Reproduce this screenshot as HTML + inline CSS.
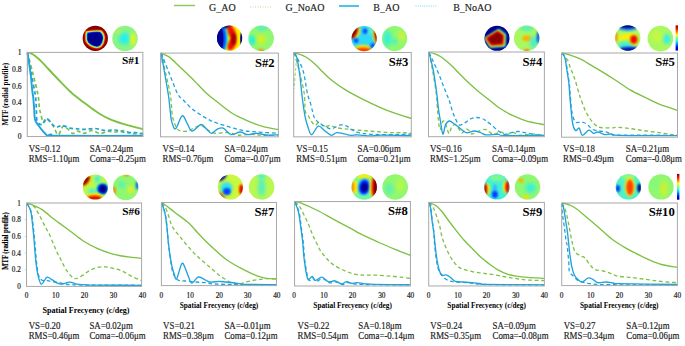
<!DOCTYPE html><html><head><meta charset="utf-8"><style>html,body{margin:0;padding:0;background:#fff;}svg{display:block;}text{font-family:"Liberation Serif",serif;}</style></head><body>
<svg xmlns="http://www.w3.org/2000/svg" width="685" height="346" viewBox="0 0 685 346">
<defs>
<filter id="b0_4" x="-50%" y="-50%" width="200%" height="200%"><feGaussianBlur stdDeviation="0.4"/></filter>
<filter id="b0_5" x="-50%" y="-50%" width="200%" height="200%"><feGaussianBlur stdDeviation="0.5"/></filter>
<filter id="b0_6" x="-50%" y="-50%" width="200%" height="200%"><feGaussianBlur stdDeviation="0.6"/></filter>
<filter id="b0_7" x="-50%" y="-50%" width="200%" height="200%"><feGaussianBlur stdDeviation="0.7"/></filter>
<filter id="b0_8" x="-50%" y="-50%" width="200%" height="200%"><feGaussianBlur stdDeviation="0.8"/></filter>
<filter id="b0_9" x="-50%" y="-50%" width="200%" height="200%"><feGaussianBlur stdDeviation="0.9"/></filter>
<filter id="b1_0" x="-50%" y="-50%" width="200%" height="200%"><feGaussianBlur stdDeviation="1.0"/></filter>
<filter id="b1_1" x="-50%" y="-50%" width="200%" height="200%"><feGaussianBlur stdDeviation="1.1"/></filter>
<filter id="b1_2" x="-50%" y="-50%" width="200%" height="200%"><feGaussianBlur stdDeviation="1.2"/></filter>
<filter id="b1_3" x="-50%" y="-50%" width="200%" height="200%"><feGaussianBlur stdDeviation="1.3"/></filter>
<filter id="b1_4" x="-50%" y="-50%" width="200%" height="200%"><feGaussianBlur stdDeviation="1.4"/></filter>
<filter id="b1_5" x="-50%" y="-50%" width="200%" height="200%"><feGaussianBlur stdDeviation="1.5"/></filter>
<filter id="b1_6" x="-50%" y="-50%" width="200%" height="200%"><feGaussianBlur stdDeviation="1.6"/></filter>
<filter id="b1_8" x="-50%" y="-50%" width="200%" height="200%"><feGaussianBlur stdDeviation="1.8"/></filter>
<filter id="b2_0" x="-50%" y="-50%" width="200%" height="200%"><feGaussianBlur stdDeviation="2.0"/></filter>
<filter id="b2_2" x="-50%" y="-50%" width="200%" height="200%"><feGaussianBlur stdDeviation="2.2"/></filter>
<filter id="soft" x="-10%" y="-10%" width="120%" height="120%"><feGaussianBlur stdDeviation="0.35"/></filter>
<radialGradient id="rad1" gradientUnits="userSpaceOnUse" cx="96.3" cy="37.7" r="13.6"><stop offset="0" stop-color="#00008c"/><stop offset="0.53" stop-color="#00008c"/><stop offset="0.6" stop-color="#0020ff"/><stop offset="0.66" stop-color="#10e0f8"/><stop offset="0.72" stop-color="#f8f000"/><stop offset="0.77" stop-color="#ff7000"/><stop offset="0.81" stop-color="#ee1000"/><stop offset="0.88" stop-color="#900000"/><stop offset="1" stop-color="#780000"/></radialGradient>
<linearGradient id="jet" x1="0" y1="1" x2="0" y2="0"><stop offset="0" stop-color="#00008c"/><stop offset="0.125" stop-color="#0000ff"/><stop offset="0.375" stop-color="#00ffff"/><stop offset="0.625" stop-color="#ffff00"/><stop offset="0.875" stop-color="#ff0000"/><stop offset="1" stop-color="#800000"/></linearGradient>
<clipPath id="cp1"><rect x="26.26" y="51.40" width="117.59" height="85.75"/></clipPath>
<clipPath id="cp2"><rect x="159.55" y="52.10" width="119.82" height="85.34"/></clipPath>
<clipPath id="cp3"><rect x="292.70" y="51.50" width="119.58" height="85.94"/></clipPath>
<clipPath id="cp4"><rect x="427.50" y="51.00" width="117.87" height="86.30"/></clipPath>
<clipPath id="cp5"><rect x="560.55" y="52.00" width="117.95" height="85.80"/></clipPath>
<clipPath id="cp6"><rect x="25.50" y="202.00" width="117.10" height="85.00"/></clipPath>
<clipPath id="cp7"><rect x="160.40" y="201.50" width="117.10" height="84.70"/></clipPath>
<clipPath id="cp8"><rect x="293.55" y="200.55" width="117.88" height="86.05"/></clipPath>
<clipPath id="cp9"><rect x="427.70" y="201.40" width="117.67" height="85.16"/></clipPath>
<clipPath id="cp10"><rect x="560.70" y="202.00" width="117.67" height="84.20"/></clipPath>
<clipPath id="cc0"><circle cx="95.30" cy="38.40" r="12.60"/></clipPath>
<clipPath id="cc1"><circle cx="125.00" cy="38.40" r="12.70"/></clipPath>
<clipPath id="cc2"><circle cx="229.60" cy="38.10" r="12.60"/></clipPath>
<clipPath id="cc3"><circle cx="261.10" cy="38.30" r="12.80"/></clipPath>
<clipPath id="cc4"><circle cx="364.10" cy="38.60" r="12.60"/></clipPath>
<clipPath id="cc5"><circle cx="394.60" cy="38.60" r="12.60"/></clipPath>
<clipPath id="cc6"><circle cx="497.00" cy="38.30" r="12.50"/></clipPath>
<clipPath id="cc7"><circle cx="526.70" cy="38.30" r="12.80"/></clipPath>
<clipPath id="cc8"><circle cx="627.80" cy="38.00" r="12.70"/></clipPath>
<clipPath id="cc9"><circle cx="660.40" cy="38.60" r="12.80"/></clipPath>
<clipPath id="cc10"><circle cx="95.40" cy="187.00" r="12.60"/></clipPath>
<clipPath id="cc11"><circle cx="125.70" cy="187.40" r="12.70"/></clipPath>
<clipPath id="cc12"><circle cx="230.40" cy="187.00" r="12.60"/></clipPath>
<clipPath id="cc13"><circle cx="261.60" cy="187.00" r="12.80"/></clipPath>
<clipPath id="cc14"><circle cx="364.20" cy="187.00" r="12.70"/></clipPath>
<clipPath id="cc15"><circle cx="395.20" cy="187.00" r="12.80"/></clipPath>
<clipPath id="cc16"><circle cx="496.90" cy="186.90" r="12.70"/></clipPath>
<clipPath id="cc17"><circle cx="527.50" cy="186.90" r="12.70"/></clipPath>
<clipPath id="cc18"><circle cx="628.40" cy="186.90" r="12.70"/></clipPath>
<clipPath id="cc19"><circle cx="661.00" cy="186.90" r="12.70"/></clipPath>
</defs>
<rect width="685" height="346" fill="#fff"/>
<g>
<line x1="174" y1="5.5" x2="195" y2="5.5" stroke="#7dc143" stroke-width="1.5" opacity="0.85"/>
<line x1="250" y1="7" x2="271" y2="7" stroke="#7dc143" stroke-width="1.2" stroke-dasharray="1 1.5" opacity="0.55"/>
<line x1="339" y1="6" x2="359" y2="6" stroke="#3cbde6" stroke-width="1.8"/>
<line x1="415.5" y1="6" x2="437" y2="6" stroke="#3cbde6" stroke-width="1.2" stroke-dasharray="1 1.2" opacity="0.7"/>
<text x="209.1" y="10.5" font-size="10" fill="#1a1a1a" stroke="#1a1a1a" stroke-width="0.15">G_AO</text>
<text x="285.5" y="10.5" font-size="10" fill="#1a1a1a" stroke="#1a1a1a" stroke-width="0.15">G_NoAO</text>
<text x="373.3" y="10.5" font-size="10" fill="#1a1a1a" stroke="#1a1a1a" stroke-width="0.15">B_AO</text>
<text x="453.2" y="10.5" font-size="10" fill="#1a1a1a" stroke="#1a1a1a" stroke-width="0.15">B_NoAO</text>
</g>
<g clip-path="url(#cp1)" fill="none" stroke-linejoin="round" stroke-linecap="butt">
<path d="M27.40,52.60 C28.33,56.17 31.23,66.93 33.00,74.00 C34.77,81.07 36.93,89.33 38.00,95.00 C39.07,100.67 38.88,104.67 39.40,108.00 C39.92,111.33 40.45,112.60 41.10,115.00 C41.75,117.40 42.20,121.73 43.30,122.40 C44.40,123.07 46.02,118.33 47.70,119.00 C49.38,119.67 51.65,123.78 53.40,126.40 C55.15,129.02 56.60,134.70 58.20,134.70 C59.80,134.70 61.47,127.42 63.00,126.40 C64.53,125.38 65.78,127.43 67.40,128.60 C69.02,129.77 70.95,132.97 72.70,133.40 C74.45,133.83 76.02,131.20 77.90,131.20 C79.78,131.20 81.65,133.52 84.00,133.40 C86.35,133.28 89.33,130.48 92.00,130.50 C94.67,130.52 97.33,133.33 100.00,133.50 C102.67,133.67 105.33,131.75 108.00,131.50 C110.67,131.25 113.33,132.17 116.00,132.00 C118.67,131.83 121.33,130.25 124.00,130.50 C126.67,130.75 128.80,133.00 132.00,133.50 C135.20,134.00 141.33,133.50 143.20,133.50" stroke="#7dc143" stroke-width="1.70" stroke-dasharray="3.8 2.7"/>
<path d="M27.60,57.00 C27.57,60.00 27.43,72.00 27.40,75.00" stroke="#1fa3dd" stroke-width="1.0" opacity="0.55"/>
<path d="M27.40,52.60 C28.05,56.17 29.98,66.93 31.30,74.00 C32.62,81.07 34.47,89.33 35.30,95.00 C36.13,100.67 35.98,103.65 36.30,108.00 C36.62,112.35 36.18,118.33 37.20,121.10 C38.22,123.87 40.87,125.03 42.40,124.60 C43.93,124.17 44.28,118.13 46.40,118.50 C48.52,118.87 52.47,125.63 55.10,126.80 C57.73,127.97 59.72,125.28 62.20,125.50 C64.68,125.72 67.53,127.55 70.00,128.10 C72.47,128.65 74.50,128.58 77.00,128.80 C79.50,129.02 82.00,129.45 85.00,129.40 C88.00,129.35 91.67,128.32 95.00,128.50 C98.33,128.68 101.67,130.25 105.00,130.50 C108.33,130.75 111.67,129.67 115.00,130.00 C118.33,130.33 121.67,132.08 125.00,132.50 C128.33,132.92 131.97,132.28 135.00,132.50 C138.03,132.72 141.83,133.58 143.20,133.80" stroke="#1fa3dd" stroke-width="1.70" stroke-dasharray="3.8 2.7"/>
<path d="M27.30,52.50 C27.92,52.65 29.63,52.77 31.00,53.40 C32.37,54.03 33.75,54.93 35.50,56.30 C37.25,57.67 39.42,59.57 41.50,61.60 C43.58,63.63 45.92,66.27 48.00,68.50 C50.08,70.73 51.67,72.53 54.00,75.00 C56.33,77.47 59.22,80.47 62.00,83.30 C64.78,86.13 68.53,89.92 70.70,92.00 C72.87,94.08 72.67,93.95 75.00,95.80 C77.33,97.65 81.37,100.60 84.70,103.10 C88.03,105.60 92.45,108.98 95.00,110.80 C97.55,112.62 97.83,112.75 100.00,114.00 C102.17,115.25 105.12,116.97 108.00,118.30 C110.88,119.63 114.47,120.98 117.30,122.00 C120.13,123.02 122.53,123.68 125.00,124.40 C127.47,125.12 129.10,125.52 132.10,126.30 C135.10,127.08 141.18,128.63 143.00,129.10" stroke="#7dc143" stroke-width="1.90"/>
<path d="M27.40,52.60 C27.93,56.17 29.78,67.60 30.60,74.00 C31.42,80.40 31.87,87.17 32.30,91.00 C32.73,94.83 32.90,94.17 33.20,97.00 C33.50,99.83 33.80,104.27 34.10,108.00 C34.40,111.73 34.27,116.48 35.00,119.40 C35.73,122.32 37.12,123.47 38.50,125.50 C39.88,127.53 41.77,129.87 43.30,131.60 C44.83,133.33 46.38,135.43 47.70,135.90 C49.02,136.37 49.67,134.42 51.20,134.40 C52.73,134.38 41.57,135.57 56.90,135.80 C72.23,136.03 128.82,135.80 143.20,135.80" stroke="#1fa3dd" stroke-width="1.90"/>
</g>
<rect x="27.26" y="52.40" width="115.59" height="84.15" fill="none" stroke="#a8a8a8" stroke-width="1"/>
<g clip-path="url(#cp2)" fill="none" stroke-linejoin="round" stroke-linecap="butt">
<path d="M161.30,53.10 C162.05,56.58 164.28,67.02 165.80,74.00 C167.32,80.98 169.32,88.15 170.40,95.00 C171.48,101.85 171.55,110.23 172.30,115.10 C173.05,119.97 174.03,121.82 174.90,124.20 C175.77,126.58 176.42,128.25 177.50,129.40 C178.58,130.55 179.65,130.83 181.40,131.10 C183.15,131.37 185.62,131.67 188.00,131.00 C190.38,130.33 193.53,128.02 195.70,127.10 C197.87,126.18 199.25,125.22 201.00,125.50 C202.75,125.78 204.25,127.60 206.20,128.80 C208.15,130.00 210.73,131.95 212.70,132.70 C214.67,133.45 216.03,133.32 218.00,133.30 C219.97,133.28 222.33,132.65 224.50,132.60 C226.67,132.55 228.83,132.57 231.00,133.00 C233.17,133.43 234.25,134.98 237.50,135.20 C240.75,135.42 246.42,134.30 250.50,134.30 C254.58,134.30 257.37,135.08 262.00,135.20 C266.63,135.32 275.58,135.03 278.30,135.00" stroke="#7dc143" stroke-width="1.30" stroke-dasharray="3.8 2.7"/>
<path d="M161.50,55.00 C161.45,56.33 161.25,61.67 161.20,63.00" stroke="#1fa3dd" stroke-width="1.0" opacity="0.55"/>
<path d="M161.30,53.10 C162.67,56.58 166.75,67.18 169.50,74.00 C172.25,80.82 175.38,89.53 177.80,94.00 C180.22,98.47 181.67,98.37 184.00,100.80 C186.33,103.23 188.97,106.22 191.80,108.60 C194.63,110.98 197.95,113.15 201.00,115.10 C204.05,117.05 207.27,118.90 210.10,120.30 C212.93,121.70 214.52,122.32 218.00,123.50 C221.48,124.68 226.67,126.20 231.00,127.40 C235.33,128.60 239.67,129.93 244.00,130.70 C248.33,131.47 251.28,131.57 257.00,132.00 C262.72,132.43 274.75,133.08 278.30,133.30" stroke="#1fa3dd" stroke-width="1.30" stroke-dasharray="3.8 2.7"/>
<path d="M161.30,53.10 C161.92,53.38 163.55,54.05 165.00,54.80 C166.45,55.55 167.67,55.73 170.00,57.60 C172.33,59.47 175.97,63.13 179.00,66.00 C182.03,68.87 185.08,71.75 188.20,74.80 C191.32,77.85 194.52,81.10 197.70,84.30 C200.88,87.50 203.97,91.00 207.30,94.00 C210.63,97.00 213.63,99.13 217.70,102.30 C221.77,105.47 227.98,110.48 231.70,113.00 C235.42,115.52 236.67,115.80 240.00,117.40 C243.33,119.00 247.80,121.05 251.70,122.60 C255.60,124.15 258.97,125.53 263.40,126.70 C267.83,127.87 275.82,129.12 278.30,129.60" stroke="#7dc143" stroke-width="1.35"/>
<path d="M161.30,53.10 C161.88,56.58 163.62,67.02 164.80,74.00 C165.98,80.98 167.47,88.58 168.40,95.00 C169.33,101.42 169.85,108.07 170.40,112.50 C170.95,116.93 170.83,118.88 171.70,121.60 C172.57,124.32 173.87,129.77 175.60,128.80 C177.33,127.83 180.15,116.67 182.10,115.80 C184.05,114.93 185.63,121.07 187.30,123.60 C188.97,126.13 189.82,130.85 192.10,131.00 C194.38,131.15 198.65,124.87 201.00,124.50 C203.35,124.13 204.47,127.33 206.20,128.80 C207.93,130.27 209.60,133.22 211.40,133.30 C213.20,133.38 215.03,130.17 217.00,129.30 C218.97,128.43 220.87,127.22 223.20,128.10 C225.53,128.98 228.18,133.95 231.00,134.60 C233.82,135.25 237.28,132.00 240.10,132.00 C242.92,132.00 245.08,134.38 247.90,134.60 C250.72,134.82 253.75,133.20 257.00,133.30 C260.25,133.40 263.85,134.95 267.40,135.20 C270.95,135.45 276.48,134.87 278.30,134.80" stroke="#1fa3dd" stroke-width="1.35"/>
</g>
<rect x="160.55" y="53.10" width="117.82" height="83.74" fill="none" stroke="#a8a8a8" stroke-width="1"/>
<g clip-path="url(#cp3)" fill="none" stroke-linejoin="round" stroke-linecap="butt">
<path d="M294.10,52.80 C295.00,56.00 297.80,65.13 299.50,72.00 C301.20,78.87 303.33,87.50 304.30,94.00 C305.27,100.50 304.60,107.33 305.30,111.00 C306.00,114.67 307.63,114.55 308.50,116.00 C309.37,117.45 309.40,118.12 310.50,119.70 C311.60,121.28 313.68,125.07 315.10,125.50 C316.52,125.93 317.48,122.08 319.00,122.30 C320.52,122.52 322.37,126.27 324.20,126.80 C326.03,127.33 328.05,125.38 330.00,125.50 C331.95,125.62 333.72,126.95 335.90,127.50 C338.08,128.05 340.58,128.48 343.10,128.80 C345.62,129.12 347.52,129.08 351.00,129.40 C354.48,129.72 359.67,130.32 364.00,130.70 C368.33,131.08 372.67,131.38 377.00,131.70 C381.33,132.02 385.67,132.45 390.00,132.60 C394.33,132.75 399.43,132.48 403.00,132.60 C406.57,132.72 410.00,133.18 411.40,133.30" stroke="#7dc143" stroke-width="1.30" stroke-dasharray="3.8 2.7"/>
<path d="M296.20,63.00 C295.82,67.33 294.28,84.67 293.90,89.00" stroke="#7dc143" stroke-width="1.1" stroke-dasharray="3 2" opacity="0.7"/>
<path d="M294.10,52.80 C295.53,55.58 300.50,62.80 302.70,69.50 C304.90,76.20 306.00,87.35 307.30,93.00 C308.60,98.65 309.63,100.37 310.50,103.40 C311.37,106.43 311.85,108.82 312.50,111.20 C313.15,113.58 313.43,115.85 314.40,117.70 C315.37,119.55 316.57,120.88 318.30,122.30 C320.03,123.72 322.63,125.12 324.80,126.20 C326.97,127.28 328.68,129.02 331.30,128.80 C333.92,128.58 337.88,125.33 340.50,124.90 C343.12,124.47 345.25,125.45 347.00,126.20 C348.75,126.95 349.03,128.33 351.00,129.40 C352.97,130.47 355.55,131.78 358.80,132.60 C362.05,133.42 365.30,133.97 370.50,134.30 C375.70,134.63 384.58,134.60 390.00,134.60 C395.42,134.60 399.43,134.40 403.00,134.30 C406.57,134.20 410.00,134.05 411.40,134.00" stroke="#1fa3dd" stroke-width="1.30" stroke-dasharray="3.8 2.7"/>
<path d="M294.10,52.80 C295.08,53.05 298.05,53.60 300.00,54.30 C301.95,55.00 303.85,55.83 305.80,57.00 C307.75,58.17 309.75,59.70 311.70,61.30 C313.65,62.90 315.65,64.82 317.50,66.60 C319.35,68.38 320.43,69.73 322.80,72.00 C325.17,74.27 327.92,77.22 331.70,80.20 C335.48,83.18 340.37,86.75 345.50,89.90 C350.63,93.05 356.58,96.12 362.50,99.10 C368.42,102.08 375.75,105.50 381.00,107.80 C386.25,110.10 388.95,111.13 394.00,112.90 C399.05,114.67 408.42,117.48 411.30,118.40" stroke="#7dc143" stroke-width="1.35"/>
<path d="M294.10,52.80 C294.57,53.63 295.95,54.10 296.90,57.80 C297.85,61.50 299.00,69.13 299.80,75.00 C300.60,80.87 301.10,87.83 301.70,93.00 C302.30,98.17 302.80,101.88 303.40,106.00 C304.00,110.12 304.55,114.23 305.30,117.70 C306.05,121.17 306.85,123.97 307.90,126.80 C308.95,129.63 309.87,134.80 311.60,134.70 C313.33,134.60 316.10,126.87 318.30,126.20 C320.50,125.53 322.63,129.18 324.80,130.70 C326.97,132.22 329.33,134.97 331.30,135.30 C333.27,135.63 334.63,132.98 336.60,132.70 C338.57,132.42 340.70,133.17 343.10,133.60 C345.50,134.03 348.60,135.10 351.00,135.30 C353.40,135.50 354.25,134.70 357.50,134.80 C360.75,134.90 366.60,135.83 370.50,135.90 C374.40,135.97 374.08,135.25 380.90,135.20 C387.72,135.15 406.32,135.53 411.40,135.60" stroke="#1fa3dd" stroke-width="1.35"/>
</g>
<rect x="293.70" y="52.50" width="117.58" height="84.34" fill="none" stroke="#a8a8a8" stroke-width="1"/>
<g clip-path="url(#cp4)" fill="none" stroke-linejoin="round" stroke-linecap="butt">
<path d="M429.00,52.60 C429.58,55.50 431.30,63.27 432.50,70.00 C433.70,76.73 435.33,85.92 436.20,93.00 C437.07,100.08 437.20,106.83 437.70,112.50 C438.20,118.17 438.73,124.25 439.20,127.00 C439.67,129.75 439.87,130.00 440.50,129.00 C441.13,128.00 442.17,121.83 443.00,121.00 C443.83,120.17 444.50,121.92 445.50,124.00 C446.50,126.08 448.00,132.92 449.00,133.50 C450.00,134.08 450.42,129.00 451.50,127.50 C452.58,126.00 454.25,124.25 455.50,124.50 C456.75,124.75 457.92,127.58 459.00,129.00 C460.08,130.42 460.83,133.00 462.00,133.00 C463.17,133.00 464.75,129.33 466.00,129.00 C467.25,128.67 468.50,130.17 469.50,131.00 C470.50,131.83 470.58,133.92 472.00,134.00 C473.42,134.08 475.83,132.27 478.00,131.50 C480.17,130.73 483.18,129.37 485.00,129.40 C486.82,129.43 487.38,130.88 488.90,131.70 C490.42,132.52 492.15,134.30 494.10,134.30 C496.05,134.30 498.65,131.65 500.60,131.70 C502.55,131.75 503.63,134.45 505.80,134.60 C507.97,134.75 511.43,132.50 513.60,132.60 C515.77,132.70 516.20,134.92 518.80,135.20 C521.40,135.48 526.17,134.45 529.20,134.30 C532.23,134.15 534.48,134.08 537.00,134.30 C539.52,134.52 543.08,135.38 544.30,135.60" stroke="#7dc143" stroke-width="1.30" stroke-dasharray="3.8 2.7"/>
<path d="M429.00,52.60 C430.35,55.50 434.23,63.27 437.10,70.00 C439.97,76.73 444.15,87.87 446.20,93.00 C448.25,98.13 448.43,97.98 449.40,100.80 C450.37,103.62 451.02,106.97 452.00,109.90 C452.98,112.83 454.10,115.90 455.30,118.40 C456.50,120.90 457.58,124.15 459.20,124.90 C460.82,125.65 463.15,123.88 465.00,122.90 C466.85,121.92 468.33,119.90 470.30,119.00 C472.27,118.10 474.63,117.50 476.80,117.50 C478.97,117.50 481.77,118.42 483.30,119.00 C484.83,119.58 484.63,120.03 486.00,121.00 C487.37,121.97 489.50,123.18 491.50,124.80 C493.50,126.42 495.83,129.12 498.00,130.70 C500.17,132.28 502.33,133.98 504.50,134.30 C506.67,134.62 508.62,133.07 511.00,132.60 C513.38,132.13 515.98,131.38 518.80,131.50 C521.62,131.62 524.87,132.73 527.90,133.30 C530.93,133.87 534.27,134.50 537.00,134.90 C539.73,135.30 543.08,135.57 544.30,135.70" stroke="#1fa3dd" stroke-width="1.30" stroke-dasharray="3.8 2.7"/>
<path d="M429.00,52.40 C430.00,52.63 433.03,53.08 435.00,53.80 C436.97,54.52 438.85,55.45 440.80,56.70 C442.75,57.95 444.75,59.65 446.70,61.30 C448.65,62.95 450.65,64.82 452.50,66.60 C454.35,68.38 455.55,69.72 457.80,72.00 C460.05,74.28 462.87,77.30 466.00,80.30 C469.13,83.30 472.93,86.88 476.60,90.00 C480.27,93.12 484.27,96.03 488.00,99.00 C491.73,101.97 495.00,105.10 499.00,107.80 C503.00,110.50 507.50,113.03 512.00,115.20 C516.50,117.37 520.62,119.22 526.00,120.80 C531.38,122.38 541.25,124.05 544.30,124.70" stroke="#7dc143" stroke-width="1.35"/>
<path d="M429.00,52.60 C429.70,55.50 431.92,63.27 433.20,70.00 C434.48,76.73 435.83,86.57 436.70,93.00 C437.57,99.43 437.80,104.05 438.40,108.60 C439.00,113.15 439.55,116.07 440.30,120.30 C441.05,124.53 442.03,133.23 442.90,134.00 C443.77,134.77 444.42,127.07 445.50,124.90 C446.58,122.73 447.88,121.12 449.40,121.00 C450.92,120.88 452.87,123.02 454.60,124.20 C456.33,125.38 457.85,126.68 459.80,128.10 C461.75,129.52 463.90,132.22 466.30,132.70 C468.70,133.18 471.80,131.00 474.20,131.00 C476.60,131.00 478.73,132.05 480.70,132.70 C482.67,133.35 483.12,134.63 486.00,134.90 C488.88,135.17 494.92,134.18 498.00,134.30 C501.08,134.42 496.78,135.42 504.50,135.60 C512.22,135.78 537.67,135.43 544.30,135.40" stroke="#1fa3dd" stroke-width="1.35"/>
</g>
<rect x="428.50" y="52.00" width="115.87" height="84.70" fill="none" stroke="#a8a8a8" stroke-width="1"/>
<g clip-path="url(#cp5)" fill="none" stroke-linejoin="round" stroke-linecap="butt">
<path d="M562.00,53.10 C562.95,54.30 566.27,57.75 567.70,60.30 C569.13,62.85 569.63,65.90 570.60,68.40 C571.57,70.90 572.63,72.98 573.50,75.30 C574.37,77.62 575.03,79.78 575.80,82.30 C576.57,84.82 577.42,88.08 578.10,90.40 C578.78,92.72 579.40,94.68 579.90,96.20 C580.40,97.72 580.25,97.22 581.10,99.50 C581.95,101.78 583.48,106.65 585.00,109.90 C586.52,113.15 588.47,116.50 590.20,119.00 C591.93,121.50 593.65,123.48 595.40,124.90 C597.15,126.32 598.08,127.00 600.70,127.50 C603.32,128.00 608.22,127.92 611.10,127.90 C613.98,127.88 614.68,127.27 618.00,127.40 C621.32,127.53 626.67,128.15 631.00,128.70 C635.33,129.25 639.67,130.10 644.00,130.70 C648.33,131.30 652.67,131.70 657.00,132.30 C661.33,132.90 666.60,133.75 670.00,134.30 C673.40,134.85 676.17,135.38 677.40,135.60" stroke="#7dc143" stroke-width="1.30" stroke-dasharray="3.8 2.7"/>
<path d="M562.00,53.10 C562.53,53.92 564.33,55.18 565.20,58.00 C566.07,60.82 566.53,65.83 567.20,70.00 C567.87,74.17 568.72,79.17 569.20,83.00 C569.68,86.83 569.73,88.73 570.10,93.00 C570.47,97.27 570.87,104.48 571.40,108.60 C571.93,112.72 572.55,115.42 573.30,117.70 C574.05,119.98 574.82,121.53 575.90,122.30 C576.98,123.07 578.50,122.27 579.80,122.30 C581.10,122.33 582.40,122.07 583.70,122.50 C585.00,122.93 586.08,123.75 587.60,124.90 C589.12,126.05 590.85,128.38 592.80,129.40 C594.75,130.42 597.12,130.60 599.30,131.00 C601.48,131.40 603.72,131.23 605.90,131.80 C608.08,132.37 610.22,133.85 612.40,134.40 C614.58,134.95 608.17,134.95 619.00,135.10 C629.83,135.25 667.67,135.27 677.40,135.30" stroke="#1fa3dd" stroke-width="1.30" stroke-dasharray="3.8 2.7"/>
<path d="M562.00,53.10 C563.00,53.30 565.05,53.37 568.00,54.30 C570.95,55.23 575.80,56.85 579.70,58.70 C583.60,60.55 587.70,63.25 591.40,65.40 C595.10,67.55 597.80,69.08 601.90,71.60 C606.00,74.12 611.28,77.45 616.00,80.50 C620.72,83.55 625.43,87.12 630.20,89.90 C634.97,92.68 639.77,94.82 644.60,97.20 C649.43,99.58 653.73,102.02 659.20,104.20 C664.67,106.38 674.37,109.28 677.40,110.30" stroke="#7dc143" stroke-width="1.35"/>
<path d="M562.00,53.10 C562.48,53.88 564.10,55.07 564.90,57.80 C565.70,60.53 566.15,65.38 566.80,69.50 C567.45,73.62 568.33,78.58 568.80,82.50 C569.27,86.42 569.28,89.08 569.60,93.00 C569.92,96.92 570.30,101.67 570.70,106.00 C571.10,110.33 571.57,115.63 572.00,119.00 C572.43,122.37 572.65,124.25 573.30,126.20 C573.95,128.15 574.92,130.38 575.90,130.70 C576.88,131.02 578.12,127.33 579.20,128.10 C580.28,128.87 580.78,134.97 582.40,135.30 C584.02,135.63 587.05,130.43 588.90,130.10 C590.75,129.77 591.98,132.98 593.50,133.30 C595.02,133.62 596.15,131.78 598.00,132.00 C599.85,132.22 602.42,134.27 604.60,134.60 C606.78,134.93 608.70,133.88 611.10,134.00 C613.50,134.12 607.95,135.03 619.00,135.30 C630.05,135.57 667.67,135.55 677.40,135.60" stroke="#1fa3dd" stroke-width="1.35"/>
</g>
<rect x="561.55" y="53.00" width="115.95" height="84.20" fill="none" stroke="#a8a8a8" stroke-width="1"/>
<g clip-path="url(#cp6)" fill="none" stroke-linejoin="round" stroke-linecap="butt">
<path d="M26.90,203.30 C28.00,203.73 31.55,204.15 33.50,205.90 C35.45,207.65 36.75,210.52 38.60,213.80 C40.45,217.08 42.82,222.18 44.60,225.60 C46.38,229.02 47.78,231.15 49.30,234.30 C50.82,237.45 52.38,241.42 53.70,244.50 C55.02,247.58 56.03,250.35 57.20,252.80 C58.37,255.25 59.55,256.98 60.70,259.20 C61.85,261.42 62.95,263.98 64.10,266.10 C65.25,268.22 66.33,270.17 67.60,271.90 C68.87,273.63 70.45,275.38 71.70,276.50 C72.95,277.62 73.95,278.40 75.10,278.60 C76.25,278.80 77.05,278.43 78.60,277.70 C80.15,276.97 82.47,275.45 84.40,274.20 C86.33,272.95 88.07,271.32 90.20,270.20 C92.33,269.08 94.72,268.07 97.20,267.50 C99.68,266.93 102.48,266.67 105.10,266.80 C107.72,266.93 110.08,267.60 112.90,268.30 C115.72,269.00 118.97,269.70 122.00,271.00 C125.03,272.30 128.07,274.60 131.10,276.10 C134.13,277.60 138.45,279.27 140.20,280.00 C141.95,280.73 141.37,280.42 141.60,280.50" stroke="#7dc143" stroke-width="1.30" stroke-dasharray="3.8 2.7"/>
<path d="M26.90,203.30 C27.62,204.75 30.10,207.72 31.20,212.00 C32.30,216.28 32.90,224.00 33.50,229.00 C34.10,234.00 34.30,236.50 34.80,242.00 C35.30,247.50 35.87,256.43 36.50,262.00 C37.13,267.57 37.67,272.35 38.60,275.40 C39.53,278.45 40.83,279.48 42.10,280.30 C43.37,281.12 44.58,280.07 46.20,280.30 C47.82,280.53 49.72,281.35 51.80,281.70 C53.88,282.05 56.38,281.98 58.70,282.40 C61.02,282.82 63.38,283.82 65.70,284.20 C68.02,284.58 69.55,284.57 72.60,284.70 C75.65,284.83 72.45,284.90 84.00,285.00 C95.55,285.10 132.25,285.25 141.90,285.30" stroke="#1fa3dd" stroke-width="1.30" stroke-dasharray="3.8 2.7"/>
<path d="M26.90,203.30 C27.42,203.40 27.53,202.88 30.00,203.90 C32.47,204.92 37.80,206.92 41.70,209.40 C45.60,211.88 50.58,216.60 53.40,218.80 C56.22,221.00 55.83,220.57 58.60,222.60 C61.37,224.63 65.93,227.98 70.00,231.00 C74.07,234.02 78.57,237.83 83.00,240.70 C87.43,243.57 91.90,246.03 96.60,248.20 C101.30,250.37 106.97,252.40 111.20,253.70 C115.43,255.00 118.53,255.40 122.00,256.00 C125.47,256.60 128.73,256.92 132.00,257.30 C135.27,257.68 140.00,258.13 141.60,258.30" stroke="#7dc143" stroke-width="1.35"/>
<path d="M26.90,203.30 C27.55,204.68 29.78,207.33 30.80,211.60 C31.82,215.87 32.43,223.83 33.00,228.90 C33.57,233.97 33.73,236.68 34.20,242.00 C34.67,247.32 35.18,255.35 35.80,260.80 C36.42,266.25 36.97,270.80 37.90,274.70 C38.83,278.60 39.90,283.78 41.40,284.20 C42.90,284.62 45.17,277.97 46.90,277.20 C48.63,276.43 50.07,278.62 51.80,279.60 C53.53,280.58 55.57,282.33 57.30,283.10 C59.03,283.87 60.12,284.37 62.20,284.20 C64.28,284.03 67.37,282.10 69.80,282.10 C72.23,282.10 74.48,283.77 76.80,284.20 C79.12,284.63 80.67,284.53 83.70,284.70 C86.73,284.87 85.30,285.10 95.00,285.20 C104.70,285.30 134.08,285.28 141.90,285.30" stroke="#1fa3dd" stroke-width="1.35"/>
</g>
<rect x="26.50" y="203.00" width="115.10" height="83.40" fill="none" stroke="#a8a8a8" stroke-width="1"/>
<g clip-path="url(#cp7)" fill="none" stroke-linejoin="round" stroke-linecap="butt">
<path d="M161.80,203.00 C162.42,203.80 164.33,205.55 165.50,207.80 C166.67,210.05 167.85,213.75 168.80,216.50 C169.75,219.25 170.23,222.03 171.20,224.30 C172.17,226.57 173.25,228.17 174.60,230.10 C175.95,232.03 177.75,233.97 179.30,235.90 C180.85,237.83 182.37,239.87 183.90,241.70 C185.43,243.53 186.97,245.17 188.50,246.90 C190.03,248.63 191.55,250.47 193.10,252.10 C194.65,253.73 196.22,255.22 197.80,256.70 C199.38,258.18 200.78,259.42 202.60,261.00 C204.42,262.58 206.75,264.53 208.70,266.20 C210.65,267.87 212.43,269.40 214.30,271.00 C216.17,272.60 217.95,274.35 219.90,275.80 C221.85,277.25 223.97,278.48 226.00,279.70 C228.03,280.92 230.08,282.38 232.10,283.10 C234.12,283.82 235.95,284.13 238.10,284.00 C240.25,283.87 242.58,282.88 245.00,282.30 C247.42,281.72 250.07,280.98 252.60,280.50 C255.13,280.02 257.80,279.72 260.20,279.40 C262.60,279.08 264.28,278.67 267.00,278.60 C269.72,278.53 274.92,278.93 276.50,279.00" stroke="#7dc143" stroke-width="1.30" stroke-dasharray="3.8 2.7"/>
<path d="M161.80,206.00 C161.77,207.17 161.63,211.83 161.60,213.00" stroke="#1fa3dd" stroke-width="1.0" opacity="0.55"/>
<path d="M161.80,203.00 C162.37,204.83 164.33,210.00 165.20,214.00 C166.07,218.00 166.47,222.17 167.00,227.00 C167.53,231.83 167.57,236.00 168.40,243.00 C169.23,250.00 170.75,263.15 172.00,269.00 C173.25,274.85 174.60,276.15 175.90,278.10 C177.20,280.05 178.28,280.22 179.80,280.70 C181.32,281.18 182.40,280.78 185.00,281.00 C187.60,281.22 191.92,281.72 195.40,282.00 C198.88,282.28 201.97,282.33 205.90,282.70 C209.83,283.07 207.22,283.83 219.00,284.20 C230.78,284.57 267.00,284.78 276.60,284.90" stroke="#1fa3dd" stroke-width="1.30" stroke-dasharray="3.8 2.7"/>
<path d="M161.80,203.00 C162.00,203.05 160.80,201.72 163.00,203.30 C165.20,204.88 170.72,209.22 175.00,212.50 C179.28,215.78 185.03,219.75 188.70,223.00 C192.37,226.25 194.02,228.83 197.00,232.00 C199.98,235.17 203.43,238.87 206.60,242.00 C209.77,245.13 212.67,247.85 216.00,250.80 C219.33,253.75 222.40,256.77 226.60,259.70 C230.80,262.63 236.23,265.75 241.20,268.40 C246.17,271.05 252.23,273.95 256.40,275.60 C260.57,277.25 262.85,277.73 266.20,278.30 C269.55,278.87 274.78,278.88 276.50,279.00" stroke="#7dc143" stroke-width="1.35"/>
<path d="M161.80,203.00 C162.32,204.67 164.07,209.17 164.90,213.00 C165.73,216.83 166.22,221.00 166.80,226.00 C167.38,231.00 167.85,238.00 168.40,243.00 C168.95,248.00 169.50,252.10 170.10,256.00 C170.70,259.90 171.35,263.47 172.00,266.40 C172.65,269.33 173.23,271.53 174.00,273.60 C174.77,275.67 175.30,280.47 176.60,278.80 C177.90,277.13 180.40,265.45 181.80,263.60 C183.20,261.75 183.92,265.60 185.00,267.70 C186.08,269.80 187.17,273.63 188.30,276.20 C189.43,278.77 190.18,282.95 191.80,283.10 C193.42,283.25 196.08,277.82 198.00,277.10 C199.92,276.38 201.33,277.98 203.30,278.80 C205.27,279.62 207.18,281.57 209.80,282.00 C212.42,282.43 216.33,281.40 219.00,281.40 C221.67,281.40 223.15,281.73 225.80,282.00 C228.45,282.27 231.87,282.62 234.90,283.00 C237.93,283.38 237.05,284.02 244.00,284.30 C250.95,284.58 271.17,284.63 276.60,284.70" stroke="#1fa3dd" stroke-width="1.35"/>
</g>
<rect x="161.40" y="202.50" width="115.10" height="83.10" fill="none" stroke="#a8a8a8" stroke-width="1"/>
<g clip-path="url(#cp8)" fill="none" stroke-linejoin="round" stroke-linecap="butt">
<path d="M295.00,201.80 C295.80,202.63 298.38,204.77 299.80,206.80 C301.22,208.83 302.17,211.37 303.50,214.00 C304.83,216.63 306.60,219.92 307.80,222.60 C309.00,225.28 309.73,227.70 310.70,230.10 C311.67,232.50 312.55,234.68 313.60,237.00 C314.65,239.32 315.85,241.68 317.00,244.00 C318.15,246.32 319.15,248.78 320.50,250.90 C321.85,253.02 323.65,254.97 325.10,256.70 C326.55,258.43 327.75,259.92 329.20,261.30 C330.65,262.68 331.88,263.73 333.80,265.00 C335.72,266.27 338.38,267.75 340.70,268.90 C343.02,270.05 345.53,271.03 347.70,271.90 C349.87,272.77 351.53,273.58 353.70,274.10 C355.87,274.62 358.38,274.82 360.70,275.00 C363.02,275.18 364.88,275.17 367.60,275.20 C370.32,275.23 373.27,275.05 377.00,275.20 C380.73,275.35 385.67,275.73 390.00,276.10 C394.33,276.47 399.60,277.02 403.00,277.40 C406.40,277.78 409.17,278.23 410.40,278.40" stroke="#7dc143" stroke-width="1.30" stroke-dasharray="3.8 2.7"/>
<path d="M295.00,201.80 C295.67,203.50 298.00,208.13 299.00,212.00 C300.00,215.87 300.30,220.00 301.00,225.00 C301.70,230.00 302.65,236.83 303.20,242.00 C303.75,247.17 303.90,252.00 304.30,256.00 C304.70,260.00 305.15,263.00 305.60,266.00 C306.05,269.00 306.40,271.58 307.00,274.00 C307.60,276.42 308.23,279.83 309.20,280.50 C310.17,281.17 311.63,277.83 312.80,278.00 C313.97,278.17 314.53,281.42 316.20,281.50 C317.87,281.58 320.58,278.28 322.80,278.50 C325.02,278.72 327.30,282.25 329.50,282.80 C331.70,283.35 333.83,281.52 336.00,281.80 C338.17,282.08 340.50,284.38 342.50,284.50 C344.50,284.62 345.92,282.58 348.00,282.50 C350.08,282.42 351.33,283.65 355.00,284.00 C358.67,284.35 360.75,284.43 370.00,284.60 C379.25,284.77 403.75,284.93 410.50,285.00" stroke="#1fa3dd" stroke-width="1.30" stroke-dasharray="3.8 2.7"/>
<path d="M295.00,201.80 C295.83,201.93 296.25,201.15 300.00,202.60 C303.75,204.05 311.67,207.58 317.50,210.50 C323.33,213.42 329.17,216.95 335.00,220.10 C340.83,223.25 348.33,227.13 352.50,229.40 C356.67,231.67 357.08,232.22 360.00,233.70 C362.92,235.18 366.67,236.75 370.00,238.30 C373.33,239.85 375.83,241.17 380.00,243.00 C384.17,244.83 389.93,247.23 395.00,249.30 C400.07,251.37 407.83,254.38 410.40,255.40" stroke="#7dc143" stroke-width="1.35"/>
<path d="M295.00,201.80 C295.58,203.50 297.58,208.13 298.50,212.00 C299.42,215.87 299.80,220.00 300.50,225.00 C301.20,230.00 302.17,237.00 302.70,242.00 C303.23,247.00 303.32,251.10 303.70,255.00 C304.08,258.90 304.57,262.37 305.00,265.40 C305.43,268.43 305.75,270.82 306.30,273.20 C306.85,275.58 307.32,279.15 308.30,279.70 C309.28,280.25 311.02,276.38 312.20,276.50 C313.38,276.62 313.78,280.30 315.40,280.40 C317.02,280.50 319.73,276.88 321.90,277.10 C324.07,277.32 326.22,281.08 328.40,281.70 C330.58,282.32 332.82,280.43 335.00,280.80 C337.18,281.17 339.55,283.75 341.50,283.90 C343.45,284.05 344.95,281.78 346.70,281.70 C348.45,281.62 350.20,283.25 352.00,283.40 C353.80,283.55 354.42,282.47 357.50,282.60 C360.58,282.73 361.67,283.83 370.50,284.20 C379.33,284.57 403.83,284.70 410.50,284.80" stroke="#1fa3dd" stroke-width="1.35"/>
</g>
<rect x="294.55" y="201.55" width="115.88" height="84.45" fill="none" stroke="#a8a8a8" stroke-width="1"/>
<g clip-path="url(#cp9)" fill="none" stroke-linejoin="round" stroke-linecap="butt">
<path d="M429.00,202.60 C429.70,203.47 431.97,205.63 433.20,207.80 C434.43,209.97 435.32,212.57 436.40,215.60 C437.48,218.63 438.80,222.57 439.70,226.00 C440.60,229.43 441.07,233.35 441.80,236.20 C442.53,239.05 443.23,240.80 444.10,243.10 C444.97,245.40 445.93,247.68 447.00,250.00 C448.07,252.32 449.25,254.87 450.50,257.00 C451.75,259.13 453.07,261.07 454.50,262.80 C455.93,264.53 457.37,266.25 459.10,267.40 C460.83,268.55 462.58,268.97 464.90,269.70 C467.22,270.43 470.30,271.27 473.00,271.80 C475.70,272.33 478.62,272.55 481.10,272.90 C483.58,273.25 485.10,273.48 487.90,273.90 C490.70,274.32 494.58,274.83 497.90,275.40 C501.22,275.97 504.50,276.73 507.80,277.30 C511.10,277.87 514.38,278.35 517.70,278.80 C521.02,279.25 523.30,279.70 527.70,280.00 C532.10,280.30 541.37,280.50 544.10,280.60" stroke="#7dc143" stroke-width="1.30" stroke-dasharray="3.8 2.7"/>
<path d="M429.00,202.80 C429.30,203.83 430.25,205.97 430.80,209.00 C431.35,212.03 431.77,217.00 432.30,221.00 C432.83,225.00 433.63,229.33 434.00,233.00 C434.37,236.67 434.10,238.52 434.50,243.00 C434.90,247.48 435.65,255.23 436.40,259.90 C437.15,264.57 437.92,268.22 439.00,271.00 C440.08,273.78 441.27,274.98 442.90,276.60 C444.53,278.22 446.63,279.80 448.80,280.70 C450.97,281.60 452.53,281.67 455.90,282.00 C459.27,282.33 463.98,282.28 469.00,282.70 C474.02,283.12 473.48,284.12 486.00,284.50 C498.52,284.88 534.42,284.92 544.10,285.00" stroke="#1fa3dd" stroke-width="1.30" stroke-dasharray="3.8 2.7"/>
<path d="M429.00,202.60 C429.17,202.70 428.87,202.72 430.00,203.20 C431.13,203.68 433.85,204.15 435.80,205.50 C437.75,206.85 439.40,208.55 441.70,211.30 C444.00,214.05 447.30,218.95 449.60,222.00 C451.90,225.05 453.12,226.60 455.50,229.60 C457.88,232.60 461.15,236.88 463.90,240.00 C466.65,243.12 469.48,245.72 472.00,248.30 C474.52,250.88 476.83,253.45 479.00,255.50 C481.17,257.55 483.00,258.97 485.00,260.60 C487.00,262.23 488.85,263.75 491.00,265.30 C493.15,266.85 495.10,268.38 497.90,269.90 C500.70,271.42 504.50,273.33 507.80,274.40 C511.10,275.47 514.38,275.82 517.70,276.30 C521.02,276.78 523.30,276.97 527.70,277.30 C532.10,277.63 541.37,278.13 544.10,278.30" stroke="#7dc143" stroke-width="1.35"/>
<path d="M429.00,202.80 C429.27,203.63 430.12,205.02 430.60,207.80 C431.08,210.58 431.37,215.38 431.90,219.50 C432.43,223.62 433.30,228.58 433.80,232.50 C434.30,236.42 434.47,239.08 434.90,243.00 C435.33,246.92 435.82,251.98 436.40,256.00 C436.98,260.02 437.75,264.28 438.40,267.10 C439.05,269.92 439.55,271.50 440.30,272.90 C441.05,274.30 441.92,275.17 442.90,275.50 C443.88,275.83 445.00,274.63 446.20,274.90 C447.40,275.17 448.58,276.02 450.10,277.10 C451.62,278.18 453.25,280.58 455.30,281.40 C457.35,282.22 459.68,281.78 462.40,282.00 C465.12,282.22 468.55,282.43 471.60,282.70 C474.65,282.97 478.30,283.32 480.70,283.60 C483.10,283.88 475.43,284.18 486.00,284.40 C496.57,284.62 534.42,284.82 544.10,284.90" stroke="#1fa3dd" stroke-width="1.35"/>
</g>
<rect x="428.70" y="202.40" width="115.67" height="83.56" fill="none" stroke="#a8a8a8" stroke-width="1"/>
<g clip-path="url(#cp10)" fill="none" stroke-linejoin="round" stroke-linecap="butt">
<path d="M562.00,203.20 C562.58,204.40 564.37,206.82 565.50,210.40 C566.63,213.98 567.72,219.48 568.80,224.70 C569.88,229.92 570.92,237.13 572.00,241.70 C573.08,246.27 573.78,249.72 575.30,252.10 C576.82,254.48 579.48,255.02 581.10,256.00 C582.72,256.98 583.48,256.48 585.00,258.00 C586.52,259.52 588.47,263.15 590.20,265.10 C591.93,267.05 593.22,268.72 595.40,269.70 C597.58,270.68 600.68,270.35 603.30,271.00 C605.92,271.65 608.65,272.73 611.10,273.60 C613.55,274.47 614.68,275.57 618.00,276.20 C621.32,276.83 626.67,276.92 631.00,277.40 C635.33,277.88 639.67,278.50 644.00,279.10 C648.33,279.70 652.67,280.47 657.00,281.00 C661.33,281.53 666.62,282.05 670.00,282.30 C673.38,282.55 676.08,282.47 677.30,282.50" stroke="#7dc143" stroke-width="1.30" stroke-dasharray="3.8 2.7"/>
<path d="M562.00,203.20 C562.05,204.83 561.93,209.20 562.30,213.00 C562.67,216.80 563.55,221.22 564.20,226.00 C564.85,230.78 565.72,238.53 566.20,241.70 C566.68,244.87 566.67,241.53 567.10,245.00 C567.53,248.47 568.42,258.07 568.80,262.50 C569.18,266.93 568.75,269.43 569.40,271.60 C570.05,273.77 571.18,273.98 572.70,275.50 C574.22,277.02 576.02,279.40 578.50,280.70 C580.98,282.00 584.35,282.68 587.60,283.30 C590.85,283.92 592.77,284.15 598.00,284.40 C603.23,284.65 605.78,284.70 619.00,284.80 C632.22,284.90 667.58,284.97 677.30,285.00" stroke="#1fa3dd" stroke-width="1.30" stroke-dasharray="3.8 2.7"/>
<path d="M562.00,203.20 C562.50,203.25 563.53,203.12 565.00,203.50 C566.47,203.88 568.85,204.58 570.80,205.50 C572.75,206.42 574.75,207.63 576.70,209.00 C578.65,210.37 579.92,211.53 582.50,213.70 C585.08,215.87 588.95,219.22 592.20,222.00 C595.45,224.78 598.52,227.40 602.00,230.40 C605.48,233.40 609.48,237.27 613.10,240.00 C616.72,242.73 619.98,244.60 623.70,246.80 C627.42,249.00 631.22,251.07 635.40,253.20 C639.58,255.33 644.42,257.72 648.80,259.60 C653.18,261.48 656.95,263.22 661.70,264.50 C666.45,265.78 674.70,266.83 677.30,267.30" stroke="#7dc143" stroke-width="1.35"/>
<path d="M562.00,203.20 C562.27,203.97 563.02,205.08 563.60,207.80 C564.18,210.52 564.85,215.38 565.50,219.50 C566.15,223.62 566.98,228.58 567.50,232.50 C568.02,236.42 568.17,239.08 568.60,243.00 C569.03,246.92 569.53,251.88 570.10,256.00 C570.67,260.12 571.25,264.45 572.00,267.70 C572.75,270.95 573.52,273.43 574.60,275.50 C575.68,277.57 577.20,279.02 578.50,280.10 C579.80,281.18 580.77,282.37 582.40,282.00 C584.03,281.63 586.57,278.33 588.30,277.90 C590.03,277.47 591.18,278.60 592.80,279.40 C594.42,280.20 595.82,282.27 598.00,282.70 C600.18,283.13 603.28,281.93 605.90,282.00 C608.52,282.07 611.52,282.82 613.70,283.10 C615.88,283.38 608.40,283.47 619.00,283.70 C629.60,283.93 667.58,284.37 677.30,284.50" stroke="#1fa3dd" stroke-width="1.35"/>
</g>
<rect x="561.70" y="203.00" width="115.67" height="82.60" fill="none" stroke="#a8a8a8" stroke-width="1"/>
<text x="139.5" y="64.4" font-size="11.3" font-weight="bold" text-anchor="end" fill="#000">S#1</text>
<text x="274.5" y="66.6" font-size="12.6" font-weight="bold" text-anchor="end" fill="#000">S#2</text>
<text x="408.3" y="66.4" font-size="12.6" font-weight="bold" text-anchor="end" fill="#000">S#3</text>
<text x="542.2" y="65.9" font-size="12.6" font-weight="bold" text-anchor="end" fill="#000">S#4</text>
<text x="674.8" y="66.4" font-size="12.6" font-weight="bold" text-anchor="end" fill="#000">S#5</text>
<text x="139.8" y="215.1" font-size="11.3" font-weight="bold" text-anchor="end" fill="#000">S#6</text>
<text x="274.2" y="216.2" font-size="12.6" font-weight="bold" text-anchor="end" fill="#000">S#7</text>
<text x="407.7" y="214.8" font-size="12.6" font-weight="bold" text-anchor="end" fill="#000">S#8</text>
<text x="542.2" y="215.9" font-size="12.6" font-weight="bold" text-anchor="end" fill="#000">S#9</text>
<text x="674.8" y="215.6" font-size="12.7" font-weight="bold" text-anchor="end" fill="#000">S#10</text>
<g clip-path="url(#cc0)">
<circle cx="95.30" cy="38.40" r="13.60" fill="#7c0000"/>
<path d="M-7.5,-6.5 Q-1,-7.8 5.1,-7.3 Q8.5,-4.5 8,-0.2 Q7.5,4 5.1,6.1 Q3,7.6 0.9,7.3 Q-3.5,6.8 -6.5,3.5 Q-8.5,1 -7.9,-1.5 Q-8.2,-4.5 -7.5,-6.5 Z" fill="#a00000" transform="translate(95.00 39.30) scale(1.450)" filter="url(#b0_9)"/>
<path d="M-7.5,-6.5 Q-1,-7.8 5.1,-7.3 Q8.5,-4.5 8,-0.2 Q7.5,4 5.1,6.1 Q3,7.6 0.9,7.3 Q-3.5,6.8 -6.5,3.5 Q-8.5,1 -7.9,-1.5 Q-8.2,-4.5 -7.5,-6.5 Z" fill="#ee1800" transform="translate(95.00 39.30) scale(1.310)" filter="url(#b0_6)"/>
<path d="M-7.5,-6.5 Q-1,-7.8 5.1,-7.3 Q8.5,-4.5 8,-0.2 Q7.5,4 5.1,6.1 Q3,7.6 0.9,7.3 Q-3.5,6.8 -6.5,3.5 Q-8.5,1 -7.9,-1.5 Q-8.2,-4.5 -7.5,-6.5 Z" fill="#ff9000" transform="translate(95.00 39.30) scale(1.230)" filter="url(#b0_5)"/>
<path d="M-7.5,-6.5 Q-1,-7.8 5.1,-7.3 Q8.5,-4.5 8,-0.2 Q7.5,4 5.1,6.1 Q3,7.6 0.9,7.3 Q-3.5,6.8 -6.5,3.5 Q-8.5,1 -7.9,-1.5 Q-8.2,-4.5 -7.5,-6.5 Z" fill="#f0f000" transform="translate(95.00 39.30) scale(1.160)" filter="url(#b0_5)"/>
<path d="M-7.5,-6.5 Q-1,-7.8 5.1,-7.3 Q8.5,-4.5 8,-0.2 Q7.5,4 5.1,6.1 Q3,7.6 0.9,7.3 Q-3.5,6.8 -6.5,3.5 Q-8.5,1 -7.9,-1.5 Q-8.2,-4.5 -7.5,-6.5 Z" fill="#20f0e0" transform="translate(95.00 39.30) scale(1.080)" filter="url(#b0_5)"/>
<path d="M-7.5,-6.5 Q-1,-7.8 5.1,-7.3 Q8.5,-4.5 8,-0.2 Q7.5,4 5.1,6.1 Q3,7.6 0.9,7.3 Q-3.5,6.8 -6.5,3.5 Q-8.5,1 -7.9,-1.5 Q-8.2,-4.5 -7.5,-6.5 Z" fill="#0030ff" transform="translate(95.00 39.30) scale(1.000)" filter="url(#b0_5)"/>
<path d="M-7.5,-6.5 Q-1,-7.8 5.1,-7.3 Q8.5,-4.5 8,-0.2 Q7.5,4 5.1,6.1 Q3,7.6 0.9,7.3 Q-3.5,6.8 -6.5,3.5 Q-8.5,1 -7.9,-1.5 Q-8.2,-4.5 -7.5,-6.5 Z" fill="#00008c" transform="translate(95.00 39.30) scale(0.920)" filter="url(#b0_4)"/>
</g>
<g clip-path="url(#cc1)">
<circle cx="125.00" cy="38.40" r="13.70" fill="#8cf582"/>
<ellipse cx="124.50" cy="38.40" rx="6.00" ry="6.00" fill="#20f0f0" transform="rotate(0 124.50 38.40)" filter="url(#b2_2)"/>
<ellipse cx="133.00" cy="39.40" rx="3.00" ry="7.00" fill="#d8f530" transform="rotate(0 133.00 39.40)" filter="url(#b1_8)"/>
<ellipse cx="118.00" cy="31.40" rx="3.00" ry="3.00" fill="#b0f060" transform="rotate(0 118.00 31.40)" filter="url(#b1_5)"/>
</g>
<g clip-path="url(#cc2)">
<circle cx="229.60" cy="38.10" r="13.60" fill="#ffee00"/>
<ellipse cx="221.60" cy="38.10" rx="6.50" ry="14.00" fill="#10f0f0" transform="rotate(0 221.60 38.10)" filter="url(#b1_0)"/>
<ellipse cx="220.60" cy="38.60" rx="5.50" ry="14.00" fill="#0040ff" transform="rotate(0 220.60 38.60)" filter="url(#b0_9)"/>
<ellipse cx="219.10" cy="39.10" rx="4.30" ry="14.00" fill="#00008c" transform="rotate(0 219.10 39.10)" filter="url(#b0_7)"/>
<ellipse cx="226.60" cy="26.10" rx="5.00" ry="2.50" fill="#00008c" transform="rotate(0 226.60 26.10)" filter="url(#b0_8)"/>
<ellipse cx="231.80" cy="32.60" rx="3.60" ry="7.50" fill="#ee1000" transform="rotate(-22 231.80 32.60)" filter="url(#b1_0)"/>
<ellipse cx="231.80" cy="44.10" rx="3.60" ry="7.00" fill="#ee1000" transform="rotate(22 231.80 44.10)" filter="url(#b1_0)"/>
<ellipse cx="233.60" cy="39.10" rx="2.60" ry="6.00" fill="#a00000" transform="rotate(0 233.60 39.10)" filter="url(#b1_0)"/>
<ellipse cx="242.20" cy="39.10" rx="2.00" ry="9.50" fill="#00008c" transform="rotate(0 242.20 39.10)" filter="url(#b0_7)"/>
</g>
<g clip-path="url(#cc3)">
<circle cx="261.10" cy="38.30" r="13.80" fill="#90f870"/>
<ellipse cx="261.10" cy="39.30" rx="4.00" ry="6.00" fill="#d8f020" transform="rotate(0 261.10 39.30)" filter="url(#b2_0)"/>
<ellipse cx="252.10" cy="40.30" rx="3.00" ry="5.00" fill="#20f0e0" transform="rotate(0 252.10 40.30)" filter="url(#b1_8)"/>
<ellipse cx="262.10" cy="28.30" rx="6.00" ry="3.00" fill="#60f0b0" transform="rotate(0 262.10 28.30)" filter="url(#b1_8)"/>
<ellipse cx="261.10" cy="50.80" rx="3.50" ry="1.50" fill="#ff8000" transform="rotate(0 261.10 50.80)" filter="url(#b0_8)"/>
</g>
<g clip-path="url(#cc4)">
<circle cx="364.10" cy="38.60" r="13.60" fill="#30d8f8"/>
<ellipse cx="370.10" cy="30.60" rx="5.00" ry="4.00" fill="#50f0d0" transform="rotate(0 370.10 30.60)" filter="url(#b1_8)"/>
<ellipse cx="356.10" cy="32.60" rx="3.50" ry="6.00" fill="#ffee00" transform="rotate(25 356.10 32.60)" filter="url(#b1_0)"/>
<ellipse cx="354.10" cy="32.60" rx="3.00" ry="7.00" fill="#a00000" transform="rotate(25 354.10 32.60)" filter="url(#b0_9)"/>
<ellipse cx="363.10" cy="48.10" rx="9.00" ry="3.00" fill="#ffee00" transform="rotate(0 363.10 48.10)" filter="url(#b1_0)"/>
<ellipse cx="363.10" cy="50.10" rx="8.00" ry="2.50" fill="#ff4000" transform="rotate(0 363.10 50.10)" filter="url(#b0_9)"/>
<ellipse cx="375.60" cy="36.60" rx="2.50" ry="8.50" fill="#ffee00" transform="rotate(-10 375.60 36.60)" filter="url(#b1_0)"/>
<ellipse cx="376.60" cy="36.60" rx="1.80" ry="8.00" fill="#900000" transform="rotate(-10 376.60 36.60)" filter="url(#b0_8)"/>
<ellipse cx="365.10" cy="31.10" rx="2.50" ry="2.80" fill="#0050ff" transform="rotate(0 365.10 31.10)" filter="url(#b1_2)"/>
<ellipse cx="356.10" cy="40.60" rx="2.30" ry="2.30" fill="#0040ff" transform="rotate(0 356.10 40.60)" filter="url(#b1_0)"/>
<ellipse cx="372.60" cy="45.60" rx="2.00" ry="2.80" fill="#0040ff" transform="rotate(30 372.60 45.60)" filter="url(#b1_0)"/>
</g>
<g clip-path="url(#cc5)">
<circle cx="394.60" cy="38.60" r="13.60" fill="#90f870"/>
<ellipse cx="387.60" cy="38.60" rx="4.00" ry="8.00" fill="#30f0e0" transform="rotate(0 387.60 38.60)" filter="url(#b2_0)"/>
<ellipse cx="401.60" cy="35.60" rx="3.00" ry="5.00" fill="#d8f030" transform="rotate(0 401.60 35.60)" filter="url(#b2_0)"/>
<ellipse cx="394.60" cy="41.60" rx="2.00" ry="3.00" fill="#40f0d0" transform="rotate(0 394.60 41.60)" filter="url(#b1_5)"/>
</g>
<g clip-path="url(#cc6)">
<circle cx="497.00" cy="38.30" r="13.50" fill="#00008c"/>
<path d="M-12.5,0 L2,-9.5 L9,-4 L8.5,8.5 L-7,9.5 Z" fill="#10f0f0" transform="translate(497.00 38.30)" filter="url(#b1_3)"/>
<path d="M-12,0 L1.5,-8.5 L8,-3.5 L7.5,7.5 L-6.5,8.5 Z" fill="#ffee00" transform="translate(497.00 38.30)" filter="url(#b1_0)"/>
<path d="M-11.5,0 L1,-7.5 L7,-3 L6.5,6.5 L-6,7.5 Z" fill="#ee1000" transform="translate(497.00 38.30)" filter="url(#b0_9)"/>
<path d="M-9.5,0 L0.5,-6.5 L5.5,-2.5 L5,5 L-5,6 Z" fill="#880000" transform="translate(497.00 38.30)" filter="url(#b0_9)"/>
</g>
<g clip-path="url(#cc7)">
<circle cx="526.70" cy="38.30" r="13.80" fill="#a8f860"/>
<ellipse cx="526.70" cy="38.30" rx="4.50" ry="2.80" fill="#ffb000" transform="rotate(0 526.70 38.30)" filter="url(#b1_3)"/>
<ellipse cx="533.70" cy="42.30" rx="3.00" ry="6.00" fill="#30e8f0" transform="rotate(0 533.70 42.30)" filter="url(#b2_0)"/>
<ellipse cx="538.20" cy="37.30" rx="1.60" ry="6.00" fill="#0050ff" transform="rotate(0 538.20 37.30)" filter="url(#b1_0)"/>
<ellipse cx="526.70" cy="50.80" rx="3.00" ry="1.50" fill="#ff7000" transform="rotate(0 526.70 50.80)" filter="url(#b0_8)"/>
<ellipse cx="526.70" cy="28.30" rx="7.00" ry="3.00" fill="#60f0b0" transform="rotate(0 526.70 28.30)" filter="url(#b1_8)"/>
</g>
<g clip-path="url(#cc8)">
<circle cx="627.80" cy="38.00" r="13.70" fill="#b0f860"/>
<ellipse cx="625.80" cy="37.00" rx="9.00" ry="3.00" fill="#ffee00" transform="rotate(-15 625.80 37.00)" filter="url(#b1_6)"/>
<ellipse cx="624.80" cy="45.00" rx="7.00" ry="3.50" fill="#40f0d0" transform="rotate(0 624.80 45.00)" filter="url(#b1_6)"/>
<ellipse cx="627.80" cy="28.50" rx="9.00" ry="2.60" fill="#20a0ff" transform="rotate(0 627.80 28.50)" filter="url(#b1_0)"/>
<ellipse cx="627.80" cy="26.00" rx="9.00" ry="2.50" fill="#00008c" transform="rotate(0 627.80 26.00)" filter="url(#b0_8)"/>
<ellipse cx="629.80" cy="48.50" rx="10.00" ry="2.00" fill="#0040ff" transform="rotate(0 629.80 48.50)" filter="url(#b1_0)"/>
<ellipse cx="629.80" cy="50.50" rx="10.00" ry="2.00" fill="#00008c" transform="rotate(0 629.80 50.50)" filter="url(#b0_8)"/>
<ellipse cx="633.80" cy="39.50" rx="4.20" ry="4.80" fill="#ffee00" transform="rotate(0 633.80 39.50)" filter="url(#b1_2)"/>
<ellipse cx="633.80" cy="39.50" rx="3.60" ry="4.20" fill="#ee1000" transform="rotate(0 633.80 39.50)" filter="url(#b1_0)"/>
<ellipse cx="616.00" cy="37.00" rx="1.60" ry="5.00" fill="#ff9000" transform="rotate(0 616.00 37.00)" filter="url(#b0_9)"/>
</g>
<g clip-path="url(#cc9)">
<circle cx="660.40" cy="38.60" r="13.80" fill="#a8f860"/>
<ellipse cx="666.90" cy="39.10" rx="3.50" ry="5.00" fill="#30f0f0" transform="rotate(0 666.90 39.10)" filter="url(#b1_6)"/>
<ellipse cx="656.40" cy="36.60" rx="5.00" ry="6.00" fill="#c8f840" transform="rotate(0 656.40 36.60)" filter="url(#b2_0)"/>
</g>
<g clip-path="url(#cc10)">
<circle cx="95.40" cy="187.00" r="13.60" fill="#b8f850"/>
<ellipse cx="92.40" cy="192.00" rx="4.00" ry="3.00" fill="#40f0e0" transform="rotate(0 92.40 192.00)" filter="url(#b1_6)"/>
<ellipse cx="97.40" cy="179.00" rx="3.00" ry="3.00" fill="#40f0e0" transform="rotate(0 97.40 179.00)" filter="url(#b1_6)"/>
<ellipse cx="86.90" cy="181.00" rx="3.50" ry="6.00" fill="#ffee00" transform="rotate(35 86.90 181.00)" filter="url(#b1_2)"/>
<ellipse cx="85.90" cy="180.50" rx="2.80" ry="6.00" fill="#a00000" transform="rotate(35 85.90 180.50)" filter="url(#b0_9)"/>
<ellipse cx="102.40" cy="189.00" rx="6.00" ry="6.00" fill="#10f0f0" transform="rotate(0 102.40 189.00)" filter="url(#b1_2)"/>
<ellipse cx="102.40" cy="189.00" rx="5.00" ry="5.00" fill="#0040ff" transform="rotate(0 102.40 189.00)" filter="url(#b1_0)"/>
<ellipse cx="102.90" cy="189.00" rx="4.00" ry="4.20" fill="#00008c" transform="rotate(0 102.90 189.00)" filter="url(#b0_8)"/>
<ellipse cx="94.40" cy="196.00" rx="8.00" ry="3.00" fill="#ffee00" transform="rotate(0 94.40 196.00)" filter="url(#b1_0)"/>
<ellipse cx="94.40" cy="198.00" rx="7.50" ry="2.50" fill="#e01000" transform="rotate(0 94.40 198.00)" filter="url(#b0_9)"/>
</g>
<g clip-path="url(#cc11)">
<circle cx="125.70" cy="187.40" r="13.70" fill="#90f870"/>
<ellipse cx="137.20" cy="185.40" rx="1.50" ry="4.00" fill="#0060ff" transform="rotate(0 137.20 185.40)" filter="url(#b0_8)"/>
<ellipse cx="114.20" cy="190.40" rx="1.50" ry="4.00" fill="#ff8000" transform="rotate(0 114.20 190.40)" filter="url(#b0_8)"/>
<ellipse cx="126.70" cy="175.10" rx="3.00" ry="1.20" fill="#ff8000" transform="rotate(0 126.70 175.10)" filter="url(#b0_8)"/>
<ellipse cx="130.70" cy="189.40" rx="3.00" ry="4.00" fill="#d8f030" transform="rotate(0 130.70 189.40)" filter="url(#b1_8)"/>
<ellipse cx="121.70" cy="184.40" rx="3.00" ry="3.00" fill="#40f0d0" transform="rotate(0 121.70 184.40)" filter="url(#b2_0)"/>
</g>
<g clip-path="url(#cc12)">
<circle cx="230.40" cy="187.00" r="13.60" fill="#c8f840"/>
<ellipse cx="226.40" cy="188.00" rx="6.00" ry="6.00" fill="#30e0f0" transform="rotate(0 226.40 188.00)" filter="url(#b1_4)"/>
<ellipse cx="226.90" cy="191.50" rx="3.80" ry="3.50" fill="#0040ff" transform="rotate(0 226.90 191.50)" filter="url(#b1_1)"/>
<ellipse cx="222.40" cy="177.50" rx="5.00" ry="2.00" fill="#00008c" transform="rotate(-40 222.40 177.50)" filter="url(#b0_8)"/>
<ellipse cx="240.40" cy="189.50" rx="2.80" ry="5.50" fill="#ffee00" transform="rotate(0 240.40 189.50)" filter="url(#b1_1)"/>
<ellipse cx="241.40" cy="189.50" rx="2.20" ry="5.00" fill="#e00000" transform="rotate(0 241.40 189.50)" filter="url(#b1_0)"/>
<ellipse cx="221.40" cy="196.00" rx="5.00" ry="1.80" fill="#c04000" transform="rotate(45 221.40 196.00)" filter="url(#b0_9)"/>
</g>
<g clip-path="url(#cc13)">
<circle cx="261.60" cy="187.00" r="13.80" fill="#b8f850"/>
<ellipse cx="261.60" cy="187.00" rx="3.00" ry="10.00" fill="#40f0d0" transform="rotate(0 261.60 187.00)" filter="url(#b2_0)"/>
<ellipse cx="261.60" cy="176.00" rx="4.00" ry="2.00" fill="#40f0e0" transform="rotate(0 261.60 176.00)" filter="url(#b1_5)"/>
</g>
<g clip-path="url(#cc14)">
<circle cx="364.20" cy="187.00" r="13.70" fill="#70f8a0"/>
<ellipse cx="364.20" cy="176.00" rx="8.00" ry="3.00" fill="#ffee00" transform="rotate(0 364.20 176.00)" filter="url(#b1_5)"/>
<ellipse cx="355.20" cy="187.00" rx="3.00" ry="7.00" fill="#ffee00" transform="rotate(0 355.20 187.00)" filter="url(#b1_2)"/>
<ellipse cx="352.70" cy="187.00" rx="1.80" ry="5.00" fill="#ff9000" transform="rotate(0 352.70 187.00)" filter="url(#b0_9)"/>
<ellipse cx="364.20" cy="187.00" rx="6.50" ry="8.50" fill="#30d0ff" transform="rotate(8 364.20 187.00)" filter="url(#b1_2)"/>
<ellipse cx="364.20" cy="187.00" rx="5.00" ry="7.30" fill="#0020ff" transform="rotate(8 364.20 187.00)" filter="url(#b1_0)"/>
<ellipse cx="364.50" cy="187.50" rx="3.30" ry="4.50" fill="#00008c" transform="rotate(8 364.50 187.50)" filter="url(#b0_8)"/>
<ellipse cx="371.70" cy="187.00" rx="2.00" ry="10.00" fill="#ffee00" transform="rotate(0 371.70 187.00)" filter="url(#b1_0)"/>
<ellipse cx="374.20" cy="187.00" rx="2.50" ry="11.00" fill="#e00000" transform="rotate(0 374.20 187.00)" filter="url(#b0_9)"/>
<ellipse cx="375.70" cy="187.00" rx="1.50" ry="10.00" fill="#800000" transform="rotate(0 375.70 187.00)" filter="url(#b0_7)"/>
</g>
<g clip-path="url(#cc15)">
<circle cx="395.20" cy="187.00" r="13.80" fill="#90f870"/>
<ellipse cx="400.20" cy="185.00" rx="4.00" ry="7.00" fill="#b8f848" transform="rotate(0 400.20 185.00)" filter="url(#b2_0)"/>
<ellipse cx="389.20" cy="189.00" rx="4.00" ry="6.00" fill="#60f0b0" transform="rotate(0 389.20 189.00)" filter="url(#b2_0)"/>
</g>
<g clip-path="url(#cc16)">
<circle cx="496.90" cy="186.90" r="13.70" fill="#40f0d8"/>
<ellipse cx="496.90" cy="177.90" rx="8.00" ry="3.50" fill="#80f890" transform="rotate(0 496.90 177.90)" filter="url(#b1_6)"/>
<ellipse cx="487.40" cy="188.90" rx="2.50" ry="6.00" fill="#ffee00" transform="rotate(0 487.40 188.90)" filter="url(#b1_1)"/>
<ellipse cx="485.40" cy="189.40" rx="1.80" ry="6.00" fill="#c00000" transform="rotate(0 485.40 189.40)" filter="url(#b0_8)"/>
<ellipse cx="505.40" cy="186.90" rx="2.50" ry="6.50" fill="#ffee00" transform="rotate(0 505.40 186.90)" filter="url(#b1_1)"/>
<ellipse cx="507.40" cy="186.90" rx="2.00" ry="6.00" fill="#e00000" transform="rotate(0 507.40 186.90)" filter="url(#b0_8)"/>
<ellipse cx="494.90" cy="190.90" rx="2.00" ry="7.00" fill="#30b0ff" transform="rotate(0 494.90 190.90)" filter="url(#b1_2)"/>
<ellipse cx="494.90" cy="194.40" rx="3.00" ry="3.50" fill="#0040ff" transform="rotate(0 494.90 194.40)" filter="url(#b1_0)"/>
</g>
<g clip-path="url(#cc17)">
<circle cx="527.50" cy="186.90" r="13.70" fill="#90f870"/>
<ellipse cx="530.50" cy="187.90" rx="5.00" ry="5.00" fill="#30f0e0" transform="rotate(0 530.50 187.90)" filter="url(#b2_0)"/>
<ellipse cx="521.00" cy="180.40" rx="2.50" ry="2.20" fill="#ffb000" transform="rotate(0 521.00 180.40)" filter="url(#b1_1)"/>
<ellipse cx="526.00" cy="196.90" rx="3.00" ry="2.00" fill="#f0e000" transform="rotate(0 526.00 196.90)" filter="url(#b1_2)"/>
</g>
<g clip-path="url(#cc18)">
<circle cx="628.40" cy="186.90" r="13.70" fill="#50f0c8"/>
<ellipse cx="628.40" cy="176.90" rx="7.00" ry="3.00" fill="#90ff70" transform="rotate(0 628.40 176.90)" filter="url(#b1_5)"/>
<ellipse cx="629.90" cy="186.90" rx="5.00" ry="9.50" fill="#ffee00" transform="rotate(0 629.90 186.90)" filter="url(#b1_2)"/>
<ellipse cx="629.90" cy="187.40" rx="3.60" ry="7.80" fill="#ff4000" transform="rotate(0 629.90 187.40)" filter="url(#b1_0)"/>
<ellipse cx="617.90" cy="188.40" rx="2.20" ry="3.50" fill="#0040ff" transform="rotate(0 617.90 188.40)" filter="url(#b1_0)"/>
<ellipse cx="639.40" cy="187.90" rx="2.00" ry="4.50" fill="#00008c" transform="rotate(0 639.40 187.90)" filter="url(#b0_9)"/>
</g>
<g clip-path="url(#cc19)">
<circle cx="661.00" cy="186.90" r="13.70" fill="#90f870"/>
<ellipse cx="664.00" cy="188.90" rx="3.00" ry="8.00" fill="#d8f020" transform="rotate(0 664.00 188.90)" filter="url(#b2_0)"/>
<ellipse cx="654.00" cy="183.90" rx="3.00" ry="5.00" fill="#80f880" transform="rotate(0 654.00 183.90)" filter="url(#b2_0)"/>
</g>
<rect x="675.6" y="25.4" width="2.4" height="25.2" fill="url(#jet)"/>
<rect x="677" y="173.9" width="2.4" height="25.8" fill="url(#jet)"/>
<line x1="24.70" y1="269.72" x2="26.10" y2="269.72" stroke="#c8c8c8" stroke-width="0.8"/>
<line x1="24.70" y1="253.04" x2="26.10" y2="253.04" stroke="#c8c8c8" stroke-width="0.8"/>
<line x1="24.70" y1="236.36" x2="26.10" y2="236.36" stroke="#c8c8c8" stroke-width="0.8"/>
<line x1="24.70" y1="219.68" x2="26.10" y2="219.68" stroke="#c8c8c8" stroke-width="0.8"/>
<text x="21.6" y="139.0" font-size="7.6" text-anchor="end" fill="#1a1a1a" stroke="#1a1a1a" stroke-width="0.18">0</text>
<text x="21.6" y="122.2" font-size="7.6" text-anchor="end" fill="#1a1a1a" stroke="#1a1a1a" stroke-width="0.18">0.2</text>
<text x="21.6" y="105.4" font-size="7.6" text-anchor="end" fill="#1a1a1a" stroke="#1a1a1a" stroke-width="0.18">0.4</text>
<text x="21.6" y="88.6" font-size="7.6" text-anchor="end" fill="#1a1a1a" stroke="#1a1a1a" stroke-width="0.18">0.6</text>
<text x="21.6" y="71.9" font-size="7.6" text-anchor="end" fill="#1a1a1a" stroke="#1a1a1a" stroke-width="0.18">0.8</text>
<text x="21.6" y="55.1" font-size="7.6" text-anchor="end" fill="#1a1a1a" stroke="#1a1a1a" stroke-width="0.18">1</text>
<text x="20.8" y="288.7" font-size="7.2" text-anchor="end" fill="#1a1a1a" stroke="#1a1a1a" stroke-width="0.18">0</text>
<text x="20.8" y="272.1" font-size="7.2" text-anchor="end" fill="#1a1a1a" stroke="#1a1a1a" stroke-width="0.18">0.2</text>
<text x="20.8" y="255.5" font-size="7.2" text-anchor="end" fill="#1a1a1a" stroke="#1a1a1a" stroke-width="0.18">0.4</text>
<text x="20.8" y="238.9" font-size="7.2" text-anchor="end" fill="#1a1a1a" stroke="#1a1a1a" stroke-width="0.18">0.6</text>
<text x="20.8" y="222.3" font-size="7.2" text-anchor="end" fill="#1a1a1a" stroke="#1a1a1a" stroke-width="0.18">0.8</text>
<text x="20.8" y="205.6" font-size="7.2" text-anchor="end" fill="#1a1a1a" stroke="#1a1a1a" stroke-width="0.18">1</text>
<text transform="translate(8.4 94.2) rotate(-90)" font-size="7.2" font-weight="bold" text-anchor="middle" fill="#000">MTF (radial profile)</text>
<text transform="translate(7.9 241.0) rotate(-90) scale(1 1.2)" font-size="6.6" font-weight="bold" text-anchor="middle" fill="#000" stroke="#000" stroke-width="0.12">MTF (radial profile)</text>
<text x="26.6" y="298.0" font-size="7.3" text-anchor="middle" fill="#1a1a1a" stroke="#1a1a1a" stroke-width="0.18">0</text>
<text x="55.7" y="298.0" font-size="7.3" text-anchor="middle" fill="#1a1a1a" stroke="#1a1a1a" stroke-width="0.18">10</text>
<text x="84.5" y="298.0" font-size="7.3" text-anchor="middle" fill="#1a1a1a" stroke="#1a1a1a" stroke-width="0.18">20</text>
<text x="113.4" y="298.0" font-size="7.3" text-anchor="middle" fill="#1a1a1a" stroke="#1a1a1a" stroke-width="0.18">30</text>
<text x="142.4" y="298.0" font-size="7.3" text-anchor="middle" fill="#1a1a1a" stroke="#1a1a1a" stroke-width="0.18">40</text>
<text x="161.4" y="297.5" font-size="7.3" text-anchor="middle" fill="#1a1a1a" stroke="#1a1a1a" stroke-width="0.18">0</text>
<text x="190.2" y="297.5" font-size="7.3" text-anchor="middle" fill="#1a1a1a" stroke="#1a1a1a" stroke-width="0.18">10</text>
<text x="219.3" y="297.5" font-size="7.3" text-anchor="middle" fill="#1a1a1a" stroke="#1a1a1a" stroke-width="0.18">20</text>
<text x="247.7" y="297.5" font-size="7.3" text-anchor="middle" fill="#1a1a1a" stroke="#1a1a1a" stroke-width="0.18">30</text>
<text x="276.8" y="297.5" font-size="7.3" text-anchor="middle" fill="#1a1a1a" stroke="#1a1a1a" stroke-width="0.18">40</text>
<text x="294.1" y="297.5" font-size="7.3" text-anchor="middle" fill="#1a1a1a" stroke="#1a1a1a" stroke-width="0.18">0</text>
<text x="323.9" y="297.5" font-size="7.3" text-anchor="middle" fill="#1a1a1a" stroke="#1a1a1a" stroke-width="0.18">10</text>
<text x="352.4" y="297.5" font-size="7.3" text-anchor="middle" fill="#1a1a1a" stroke="#1a1a1a" stroke-width="0.18">20</text>
<text x="381.8" y="297.5" font-size="7.3" text-anchor="middle" fill="#1a1a1a" stroke="#1a1a1a" stroke-width="0.18">30</text>
<text x="410.6" y="297.5" font-size="7.3" text-anchor="middle" fill="#1a1a1a" stroke="#1a1a1a" stroke-width="0.18">40</text>
<text x="428.5" y="297.5" font-size="7.3" text-anchor="middle" fill="#1a1a1a" stroke="#1a1a1a" stroke-width="0.18">0</text>
<text x="458.0" y="297.5" font-size="7.3" text-anchor="middle" fill="#1a1a1a" stroke="#1a1a1a" stroke-width="0.18">10</text>
<text x="486.4" y="297.5" font-size="7.3" text-anchor="middle" fill="#1a1a1a" stroke="#1a1a1a" stroke-width="0.18">20</text>
<text x="515.8" y="297.5" font-size="7.3" text-anchor="middle" fill="#1a1a1a" stroke="#1a1a1a" stroke-width="0.18">30</text>
<text x="544.3" y="297.5" font-size="7.3" text-anchor="middle" fill="#1a1a1a" stroke="#1a1a1a" stroke-width="0.18">40</text>
<text x="561.6" y="297.5" font-size="7.3" text-anchor="middle" fill="#1a1a1a" stroke="#1a1a1a" stroke-width="0.18">0</text>
<text x="590.7" y="297.5" font-size="7.3" text-anchor="middle" fill="#1a1a1a" stroke="#1a1a1a" stroke-width="0.18">10</text>
<text x="619.5" y="297.5" font-size="7.3" text-anchor="middle" fill="#1a1a1a" stroke="#1a1a1a" stroke-width="0.18">20</text>
<text x="648.4" y="297.5" font-size="7.3" text-anchor="middle" fill="#1a1a1a" stroke="#1a1a1a" stroke-width="0.18">30</text>
<text x="677.4" y="297.5" font-size="7.3" text-anchor="middle" fill="#1a1a1a" stroke="#1a1a1a" stroke-width="0.18">40</text>
<text x="86.0" y="312.9" font-size="8.1" font-weight="bold" text-anchor="middle" fill="#000">Spatial Frecyency (c/deg)</text>
<text x="219.0" y="307.9" font-size="7.3" font-weight="bold" text-anchor="middle" fill="#000">Spatial Frecyency (c/deg)</text>
<text x="352.6" y="308.2" font-size="7.3" font-weight="bold" text-anchor="middle" fill="#000">Spatial Frecyency (c/deg)</text>
<text x="486.6" y="308.2" font-size="7.3" font-weight="bold" text-anchor="middle" fill="#000">Spatial Frecyency (c/deg)</text>
<text x="619.3" y="308.2" font-size="7.3" font-weight="bold" text-anchor="middle" fill="#000">Spatial Frecyency (c/deg)</text>
<text transform="translate(28.70 152.10) scale(1 1.070)" font-size="8.85" fill="#1a1a1a" stroke="#1a1a1a" stroke-width="0.15">VS=0.12</text>
<text transform="translate(28.70 162.20) scale(1 1.070)" font-size="8.85" fill="#1a1a1a" stroke="#1a1a1a" stroke-width="0.15">RMS=1.10μm</text>
<text transform="translate(89.80 152.10) scale(1 1.070)" font-size="8.85" fill="#1a1a1a" stroke="#1a1a1a" stroke-width="0.15">SA=0.24μm</text>
<text transform="translate(89.80 162.20) scale(1 1.070)" font-size="8.85" fill="#1a1a1a" stroke="#1a1a1a" stroke-width="0.15">Coma=-0.25μm</text>
<text transform="translate(162.60 152.10) scale(1 1.070)" font-size="8.85" fill="#1a1a1a" stroke="#1a1a1a" stroke-width="0.15">VS=0.14</text>
<text transform="translate(162.60 162.20) scale(1 1.070)" font-size="8.85" fill="#1a1a1a" stroke="#1a1a1a" stroke-width="0.15">RMS=0.76μm</text>
<text transform="translate(224.40 152.10) scale(1 1.070)" font-size="8.85" fill="#1a1a1a" stroke="#1a1a1a" stroke-width="0.15">SA=0.24μm</text>
<text transform="translate(224.40 162.20) scale(1 1.070)" font-size="8.85" fill="#1a1a1a" stroke="#1a1a1a" stroke-width="0.15">Coma=-0.07μm</text>
<text transform="translate(296.20 152.10) scale(1 1.070)" font-size="8.85" fill="#1a1a1a" stroke="#1a1a1a" stroke-width="0.15">VS=0.15</text>
<text transform="translate(296.20 162.20) scale(1 1.070)" font-size="8.85" fill="#1a1a1a" stroke="#1a1a1a" stroke-width="0.15">RMS=0.51μm</text>
<text transform="translate(357.50 152.10) scale(1 1.070)" font-size="8.85" fill="#1a1a1a" stroke="#1a1a1a" stroke-width="0.15">SA=0.06μm</text>
<text transform="translate(357.50 162.20) scale(1 1.070)" font-size="8.85" fill="#1a1a1a" stroke="#1a1a1a" stroke-width="0.15">Coma=0.21μm</text>
<text transform="translate(429.90 152.10) scale(1 1.070)" font-size="8.85" fill="#1a1a1a" stroke="#1a1a1a" stroke-width="0.15">VS=0.16</text>
<text transform="translate(429.90 162.20) scale(1 1.070)" font-size="8.85" fill="#1a1a1a" stroke="#1a1a1a" stroke-width="0.15">RMS=1.25μm</text>
<text transform="translate(492.00 152.10) scale(1 1.070)" font-size="8.85" fill="#1a1a1a" stroke="#1a1a1a" stroke-width="0.15">SA=0.14μm</text>
<text transform="translate(492.00 162.20) scale(1 1.070)" font-size="8.85" fill="#1a1a1a" stroke="#1a1a1a" stroke-width="0.15">Coma=-0.09μm</text>
<text transform="translate(563.10 152.10) scale(1 1.070)" font-size="8.85" fill="#1a1a1a" stroke="#1a1a1a" stroke-width="0.15">VS=0.18</text>
<text transform="translate(563.10 162.20) scale(1 1.070)" font-size="8.85" fill="#1a1a1a" stroke="#1a1a1a" stroke-width="0.15">RMS=0.49μm</text>
<text transform="translate(625.80 152.10) scale(1 1.070)" font-size="8.85" fill="#1a1a1a" stroke="#1a1a1a" stroke-width="0.15">SA=0.21μm</text>
<text transform="translate(625.80 162.20) scale(1 1.070)" font-size="8.85" fill="#1a1a1a" stroke="#1a1a1a" stroke-width="0.15">Coma=-0.08μm</text>
<text transform="translate(28.70 329.10) scale(1 1.070)" font-size="8.85" fill="#1a1a1a" stroke="#1a1a1a" stroke-width="0.15">VS=0.20</text>
<text transform="translate(28.70 339.20) scale(1 1.070)" font-size="8.85" fill="#1a1a1a" stroke="#1a1a1a" stroke-width="0.15">RMS=0.46μm</text>
<text transform="translate(89.40 329.10) scale(1 1.070)" font-size="8.85" fill="#1a1a1a" stroke="#1a1a1a" stroke-width="0.15">SA=0.02μm</text>
<text transform="translate(89.40 339.20) scale(1 1.070)" font-size="8.85" fill="#1a1a1a" stroke="#1a1a1a" stroke-width="0.15">Coma=-0.06μm</text>
<text transform="translate(163.10 329.10) scale(1 1.070)" font-size="8.85" fill="#1a1a1a" stroke="#1a1a1a" stroke-width="0.15">VS=0.21</text>
<text transform="translate(163.10 339.20) scale(1 1.070)" font-size="8.85" fill="#1a1a1a" stroke="#1a1a1a" stroke-width="0.15">RMS=0.38μm</text>
<text transform="translate(224.40 329.10) scale(1 1.070)" font-size="8.85" fill="#1a1a1a" stroke="#1a1a1a" stroke-width="0.15">SA=-0.01μm</text>
<text transform="translate(224.40 339.20) scale(1 1.070)" font-size="8.85" fill="#1a1a1a" stroke="#1a1a1a" stroke-width="0.15">Coma=0.12μm</text>
<text transform="translate(297.60 329.10) scale(1 1.070)" font-size="8.85" fill="#1a1a1a" stroke="#1a1a1a" stroke-width="0.15">VS=0.22</text>
<text transform="translate(297.60 339.20) scale(1 1.070)" font-size="8.85" fill="#1a1a1a" stroke="#1a1a1a" stroke-width="0.15">RMS=0.54μm</text>
<text transform="translate(358.30 329.10) scale(1 1.070)" font-size="8.85" fill="#1a1a1a" stroke="#1a1a1a" stroke-width="0.15">SA=0.18μm</text>
<text transform="translate(358.30 339.20) scale(1 1.070)" font-size="8.85" fill="#1a1a1a" stroke="#1a1a1a" stroke-width="0.15">Coma=-0.14μm</text>
<text transform="translate(430.30 329.10) scale(1 1.070)" font-size="8.85" fill="#1a1a1a" stroke="#1a1a1a" stroke-width="0.15">VS=0.24</text>
<text transform="translate(430.30 339.20) scale(1 1.070)" font-size="8.85" fill="#1a1a1a" stroke="#1a1a1a" stroke-width="0.15">RMS=0.35μm</text>
<text transform="translate(492.50 329.10) scale(1 1.070)" font-size="8.85" fill="#1a1a1a" stroke="#1a1a1a" stroke-width="0.15">SA=0.09μm</text>
<text transform="translate(492.50 339.20) scale(1 1.070)" font-size="8.85" fill="#1a1a1a" stroke="#1a1a1a" stroke-width="0.15">Coma=-0.08μm</text>
<text transform="translate(563.70 329.10) scale(1 1.070)" font-size="8.85" fill="#1a1a1a" stroke="#1a1a1a" stroke-width="0.15">VS=0.27</text>
<text transform="translate(563.70 339.20) scale(1 1.070)" font-size="8.85" fill="#1a1a1a" stroke="#1a1a1a" stroke-width="0.15">RMS=0.34μm</text>
<text transform="translate(626.30 329.10) scale(1 1.070)" font-size="8.85" fill="#1a1a1a" stroke="#1a1a1a" stroke-width="0.15">SA=0.12μm</text>
<text transform="translate(626.30 339.20) scale(1 1.070)" font-size="8.85" fill="#1a1a1a" stroke="#1a1a1a" stroke-width="0.15">Coma=0.06μm</text>
</svg></body></html>
